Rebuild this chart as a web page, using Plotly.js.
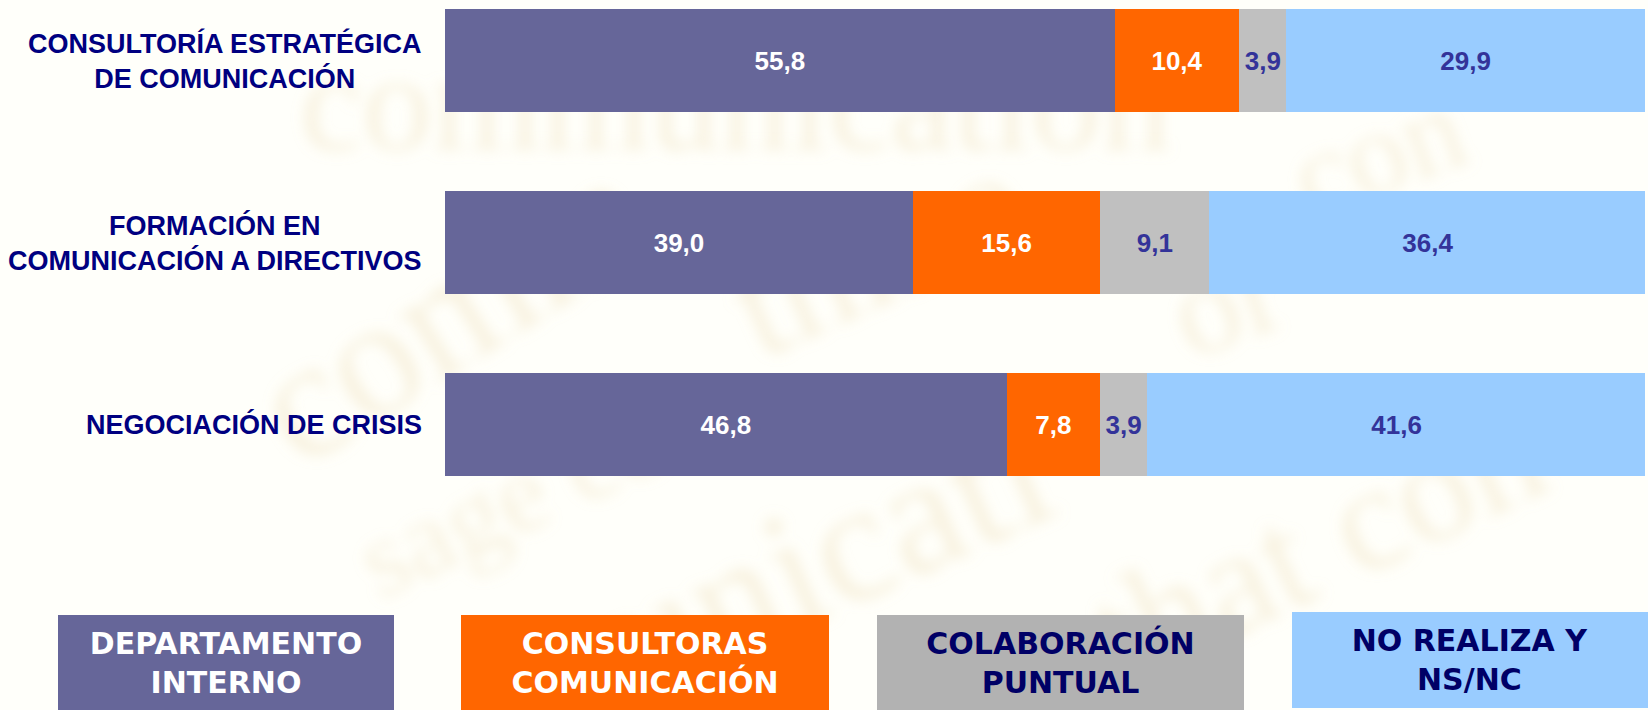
<!DOCTYPE html>
<html>
<head>
<meta charset="utf-8">
<script src="https://cdn.plot.ly/plotly-3.0.1.min.js"></script>
<style>
html, body { margin: 0; padding: 0; background: #ffffff; }
#chart { width: 1648px; height: 710px; }
</style>
</head>
<body>
<div id="chart"></div>
<script>
// ---- data ----
const categories = [
  'CONSULTORÍA ESTRATÉGICA<br>DE COMUNICACIÓN',
  'FORMACIÓN EN<br>COMUNICACIÓN A DIRECTIVOS',
  'NEGOCIACIÓN DE CRISIS'
];
const seriesNames = [
  'DEPARTAMENTO<br>INTERNO',
  'CONSULTORAS<br>COMUNICACIÓN',
  'COLABORACIÓN<br>PUNTUAL',
  'NO REALIZA Y<br>NS/NC'
];
const departamentoInterno = [55.8, 39.0, 46.8];
const consultorasComunicacion = [10.4, 15.6, 7.8];
const colaboracionPuntual = [3.9, 9.1, 3.9];
const noRealizaNsNc = [29.9, 36.4, 41.6];

// ---- styles ----
const barColors = ['#666699', '#FF6600', '#C0C0C0', '#99CCFF'];
const legendBoxColors = ['#666699', '#FF6600', '#B2B2B2', '#99CCFF'];
const valueTextColors = ['#FFFFFF', '#FFFFFF', '#333399', '#333399'];
const legendTextColors = ['#FFFFFF', '#FFFFFF', '#000066', '#000066'];

const W = 1648, H = 710;
const M = { l: 445, r: 3, t: 0, b: 110 };
const PW = W - M.l - M.r, PH = H - M.t - M.b;
const toPaperX = p => (p - M.l) / PW;
const toPaperY = p => 1 - (p - M.t) / PH;

const fmt = v => v.toFixed(1).replace('.', ',');
const allSeries = [departamentoInterno, consultorasComunicacion, colaboracionPuntual, noRealizaNsNc];

const traces = allSeries.map((vals, i) => ({
  type: 'bar',
  orientation: 'h',
  name: seriesNames[i].replace('<br>', ' '),
  x: vals,
  y: categories,
  text: vals.map(fmt),
  textposition: 'inside',
  insidetextanchor: 'middle',
  textangle: 0,
  constraintext: 'none',
  textfont: { family: 'Liberation Sans, Arial, sans-serif', size: 26, color: valueTextColors[i], weight: 'bold' },
  marker: { color: barColors[i], line: { width: 0 } },
  hoverinfo: 'none'
}));

// category labels (centered lines, right edge next to the bars)
const catAnnotations = categories.map(c => ({
  xref: 'paper', yref: 'y',
  x: 0, y: c,
  xanchor: 'right', yanchor: 'middle',
  xshift: -21,
  align: 'center',
  showarrow: false,
  text: c,
  font: { family: 'Liberation Sans, Arial, sans-serif', size: 27, color: '#000080', weight: 'bold' }
}));

// legend boxes
const legendBoxes = [
  { left: 58, right: 394, top: 615, bottom: 710 },
  { left: 461, right: 829, top: 615, bottom: 710 },
  { left: 877, right: 1244, top: 615, bottom: 710 },
  { left: 1292, right: 1648, top: 612, bottom: 708 }
];
const legendAnnotations = seriesNames.map((n, i) => {
  const b = legendBoxes[i];
  return {
    xref: 'paper', yref: 'paper',
    x: toPaperX(b.left), y: toPaperY(b.bottom),
    xanchor: 'left', yanchor: 'bottom',
    width: b.right - b.left, height: b.bottom - b.top,
    bgcolor: legendBoxColors[i],
    borderwidth: 0, borderpad: 0,
    align: 'center', valign: 'middle',
    showarrow: false,
    text: n,
    font: { family: 'DejaVu Sans, Verdana, sans-serif', size: 30, color: legendTextColors[i], weight: 'bold' }
  };
});

// faint blurred watermark background
const wmWords = [
  { t: 'comm', x: 300, y: 470, s: 170, r: -32 },
  { t: 'thine', x: 760, y: 360, s: 150, r: -24 },
  { t: 'or', x: 1190, y: 360, s: 130, r: -20 },
  { t: 'con', x: 1310, y: 220, s: 120, r: -20 },
  { t: 'sage con', x: 380, y: 600, s: 110, r: -25 },
  { t: 'unicati', x: 640, y: 700, s: 170, r: -24 },
  { t: 'that con', x: 1120, y: 690, s: 150, r: -25 },
  { t: 'communication', x: 300, y: 150, s: 140, r: 0 }
];
const wmSvg = "<svg xmlns='http://www.w3.org/2000/svg' width='1648' height='710'>" +
  "<defs><filter id='b' x='-20%' y='-20%' width='140%' height='140%'><feGaussianBlur stdDeviation='7'/></filter></defs>" +
  "<rect width='1648' height='710' fill='#FFFFFA'/>" +
  "<g filter='url(#b)' fill='#E9D3A6' fill-opacity='0.32' font-family='Liberation Serif, serif'>" +
  wmWords.map(w => "<text x='" + w.x + "' y='" + w.y + "' font-size='" + w.s + "' transform='rotate(" + w.r + " " + w.x + " " + w.y + ")'>" + w.t + "</text>").join('') +
  "</g></svg>";

const layout = {
  width: W, height: H,
  margin: M,
  paper_bgcolor: '#FFFFFF',
  plot_bgcolor: 'rgba(0,0,0,0)',
  barmode: 'stack',
  bargap: 0.434,
  showlegend: false,
  xaxis: {
    range: [0, 100],
    visible: false,
    fixedrange: true
  },
  yaxis: {
    type: 'category',
    categoryorder: 'array',
    categoryarray: categories,
    range: [2.962, -0.335],
    autorange: false,
    showticklabels: false,
    showgrid: false,
    zeroline: false,
    showline: false,
    ticks: '',
    fixedrange: true
  },
  images: [{
    source: 'data:image/svg+xml;charset=utf-8,' + encodeURIComponent(wmSvg),
    xref: 'paper', yref: 'paper',
    x: toPaperX(0), y: toPaperY(0),
    sizex: W / PW, sizey: H / PH,
    xanchor: 'left', yanchor: 'top',
    sizing: 'stretch',
    layer: 'below'
  }],
  annotations: catAnnotations.concat(legendAnnotations)
};

Plotly.newPlot('chart', traces, layout, { staticPlot: true, displayModeBar: false });
</script>
</body>
</html>
